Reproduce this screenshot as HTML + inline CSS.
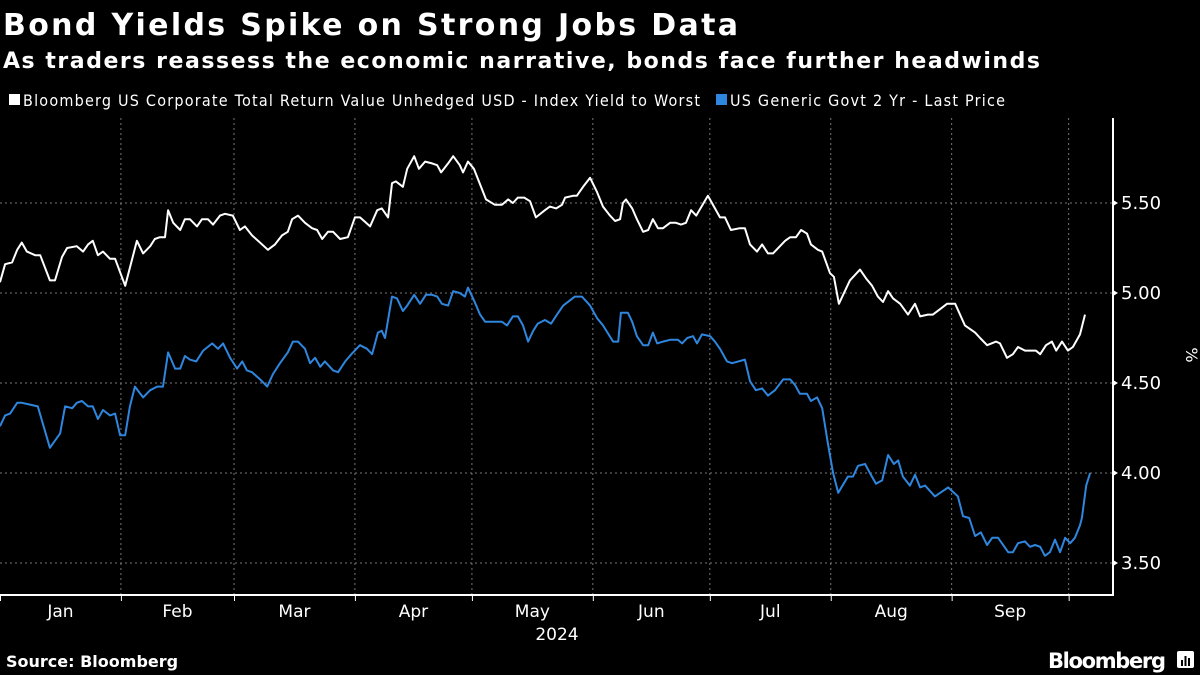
<!DOCTYPE html>
<html><head><meta charset="utf-8"><style>
html,body{margin:0;padding:0;background:#000;width:1200px;height:675px;overflow:hidden}
svg text{font-family:"DejaVu Sans","Liberation Sans",sans-serif;fill:#fff}
</style></head><body>
<svg id="c" width="1200" height="675" viewBox="0 0 1200 675">
<text x="3" y="35" font-size="30" font-weight="bold" textLength="735">Bond Yields Spike on Strong Jobs Data</text>
<text x="3" y="68" font-size="22" font-weight="bold" textLength="1037">As traders reassess the economic narrative, bonds face further headwinds</text>
<g>
<rect x="9" y="94" width="11" height="11" fill="#fff"/>
<text x="23" y="106" font-size="16" textLength="677" style="font-stretch:condensed">Bloomberg US Corporate Total Return Value Unhedged USD - Index Yield to Worst</text>
<rect x="716" y="94" width="11" height="11" fill="#2f86de"/>
<text x="730" y="106" font-size="16" textLength="275" style="font-stretch:condensed">US Generic Govt 2 Yr - Last Price</text>
</g>
<g id="grid"></g>
<g id="axes"></g>
<g id="series"></g>
<text x="557" y="640" font-size="17" text-anchor="middle">2024</text>
<text transform="translate(1186,355) rotate(90)" font-size="16" text-anchor="middle">%</text>
<text x="6" y="667" font-size="16" font-weight="bold">Source: Bloomberg</text>
<text x="1048" y="668" font-size="21" font-weight="bold" textLength="118">Bloomberg</text>
<g><rect x="1177" y="651" width="17" height="17" rx="2" fill="#fff"/><rect x="1181" y="660" width="2" height="6" fill="#000"/><rect x="1184.5" y="656" width="2" height="10" fill="#000"/><rect x="1188" y="658" width="2" height="8" fill="#000"/></g>
</svg>
<script>
const yTicks=[3.5,4.0,4.5,5.0,5.5];
const yTickLabels=["3.50","4.00","4.50","5.00","5.50"];
const monthLabels=["Jan","Feb","Mar","Apr","May","Jun","Jul","Aug","Sep"];
const monthStarts=[0,31,60,91,121,152,182,213,244,274];
const corpDays=[0,1.3,3.1,4.4,5.6,6.9,9.0,10.3,12.8,14.1,15.9,17.2,19.7,21.3,22.6,23.8,25.1,26.4,28.2,29.5,32.1,35.1,36.7,38.5,39.7,41.0,42.3,43.1,44.4,46.2,47.4,48.7,50.5,51.8,53.3,54.6,56.4,57.7,59.7,61.5,62.8,64.6,66.7,68.7,70.5,72.3,73.8,74.9,76.4,78.2,80.0,81.3,82.6,84.1,85.4,87.2,89.2,91.0,92.3,94.9,96.7,97.9,99.5,100.5,101.5,103.3,104.4,106.2,107.4,109.0,110.8,112.1,113.1,114.9,116.2,117.9,118.7,120.0,121.5,124.6,126.9,128.7,130.3,131.5,132.8,134.4,135.9,137.4,139.7,141.0,142.6,144.1,144.9,146.9,147.9,149.5,151.3,153.1,154.6,156.4,157.7,159.0,159.7,160.5,162.1,163.3,164.9,166.2,167.4,168.7,170.0,171.8,173.3,174.6,175.9,177.2,178.5,181.5,184.6,185.9,187.4,189.7,191.0,192.3,194.1,195.4,196.9,198.2,201.3,202.6,204.1,205.4,206.9,207.9,209.7,210.8,212.8,213.8,215.1,217.9,220.5,222.1,223.6,225.1,226.4,227.7,229.0,230.8,232.8,234.6,235.9,237.9,239.2,241.0,242.8,244.9,247.4,250.0,251.3,253.1,255.4,256.4,258.2,259.7,261.0,262.8,264.1,265.6,266.7,268.2,269.7,270.8,272.3,273.8,275.1,276.9,278.2];
const corpYield=[5.06,5.16,5.17,5.24,5.28,5.23,5.21,5.21,5.07,5.07,5.20,5.25,5.26,5.23,5.27,5.29,5.21,5.23,5.19,5.19,5.04,5.29,5.22,5.26,5.30,5.31,5.31,5.46,5.39,5.35,5.41,5.41,5.37,5.41,5.41,5.38,5.43,5.44,5.43,5.35,5.37,5.32,5.28,5.24,5.27,5.32,5.34,5.41,5.43,5.39,5.36,5.35,5.30,5.34,5.34,5.30,5.31,5.42,5.42,5.37,5.46,5.47,5.42,5.61,5.62,5.59,5.69,5.76,5.69,5.73,5.72,5.71,5.67,5.72,5.76,5.71,5.67,5.73,5.69,5.52,5.49,5.49,5.52,5.50,5.53,5.53,5.51,5.42,5.46,5.48,5.47,5.49,5.53,5.54,5.54,5.59,5.64,5.56,5.48,5.43,5.40,5.41,5.50,5.52,5.47,5.41,5.34,5.35,5.41,5.36,5.36,5.39,5.39,5.38,5.39,5.46,5.43,5.54,5.42,5.42,5.35,5.36,5.36,5.27,5.23,5.27,5.22,5.22,5.29,5.31,5.31,5.35,5.33,5.27,5.24,5.23,5.11,5.09,4.94,5.07,5.13,5.08,5.04,4.98,4.95,5.01,4.97,4.94,4.88,4.94,4.87,4.88,4.88,4.91,4.94,4.94,4.82,4.78,4.75,4.71,4.73,4.72,4.64,4.66,4.70,4.68,4.68,4.68,4.66,4.71,4.73,4.68,4.73,4.68,4.70,4.77,4.88];
const govDays=[0,1.3,2.6,4.4,5.6,7.7,9.7,12.8,15.4,16.7,18.5,19.7,21.0,22.6,23.8,25.1,26.4,28.2,29.5,30.8,32.1,33.3,34.6,36.7,38.5,40.3,41.8,43.1,44.9,46.2,47.4,48.7,50.3,52.1,54.4,55.9,57.2,59.0,60.8,62.1,63.3,64.6,66.7,68.5,70.0,71.8,73.8,75.1,76.4,78.2,79.5,80.8,82.1,83.3,85.4,86.7,88.5,90.5,92.3,94.1,95.4,96.9,97.9,98.7,100.5,101.8,103.3,104.4,106.2,107.7,109.2,110.8,112.1,113.3,114.9,116.2,117.9,119.2,120.0,121.5,123.1,124.4,126.2,128.7,130.0,131.5,132.8,134.1,135.4,136.7,137.9,139.7,141.3,142.8,144.4,147.4,149.2,151.3,153.1,154.6,157.2,158.5,159.2,161.0,162.1,163.3,164.9,166.2,167.4,168.5,170.0,171.8,173.8,174.9,176.2,177.7,178.7,180.0,182.1,183.3,184.6,186.4,187.7,191.0,192.3,193.8,195.4,196.9,198.7,200.8,202.6,203.8,205.1,206.9,207.9,209.5,210.8,212.3,213.6,214.9,217.4,218.7,220.0,221.8,223.3,224.6,226.2,227.7,229.2,230.3,231.5,233.3,234.6,235.9,237.2,239.7,243.1,245.6,246.9,248.5,250.0,251.5,253.1,254.4,255.9,258.5,259.7,261.0,262.8,264.1,265.4,266.7,267.9,269.2,270.5,271.8,273.1,274.4,275.6,276.9,277.4,278.5,279.5];
const govYield=[4.26,4.32,4.33,4.39,4.39,4.38,4.37,4.14,4.22,4.37,4.36,4.39,4.40,4.37,4.37,4.30,4.35,4.32,4.33,4.21,4.21,4.37,4.48,4.42,4.46,4.48,4.48,4.67,4.58,4.58,4.65,4.63,4.62,4.68,4.72,4.69,4.72,4.64,4.58,4.62,4.57,4.56,4.52,4.48,4.55,4.61,4.67,4.73,4.73,4.69,4.61,4.64,4.59,4.62,4.57,4.56,4.62,4.67,4.71,4.69,4.66,4.78,4.79,4.75,4.98,4.97,4.90,4.93,4.99,4.94,4.99,4.99,4.98,4.94,4.93,5.01,5.00,4.98,5.03,4.96,4.88,4.84,4.84,4.84,4.82,4.87,4.87,4.82,4.73,4.79,4.83,4.85,4.83,4.88,4.93,4.98,4.98,4.93,4.86,4.82,4.73,4.73,4.89,4.89,4.84,4.76,4.71,4.71,4.78,4.72,4.73,4.74,4.74,4.72,4.75,4.76,4.72,4.77,4.76,4.73,4.69,4.62,4.61,4.63,4.51,4.46,4.47,4.43,4.46,4.52,4.52,4.49,4.44,4.44,4.40,4.42,4.36,4.16,4.00,3.89,3.98,3.98,4.04,4.05,3.99,3.94,3.96,4.10,4.05,4.07,3.98,3.93,3.99,3.92,3.93,3.87,3.92,3.87,3.76,3.75,3.65,3.67,3.60,3.64,3.64,3.56,3.56,3.61,3.62,3.59,3.60,3.59,3.54,3.56,3.63,3.56,3.64,3.61,3.64,3.71,3.75,3.93,4.00];

const NS="http://www.w3.org/2000/svg";
const L=0,R=1113,T=118,B=595;
const xS=d=>L+d*(1110/284.6);
const yS=v=>203+(5.5-v)*180;
function mk(tag,attrs,parent){const e=document.createElementNS(NS,tag);for(const k in attrs)e.setAttribute(k,attrs[k]);parent.appendChild(e);return e;}
const grid=document.getElementById('grid'),axes=document.getElementById('axes'),ser=document.getElementById('series');
yTicks.forEach((v,i)=>{
  const g=mk('line',{x1:L,x2:R,y1:yS(v),y2:yS(v),stroke:'#777','stroke-width':1,'stroke-dasharray':'2,3'},grid);
  
  
  const tk=mk('path',{d:`M${R} ${yS(v)-3}L${R+5} ${yS(v)}L${R} ${yS(v)+3}Z`,fill:'#fff'},axes);
  
  
  const t=mk('text',{x:R+8,y:yS(v)+6,'font-size':18},axes);
  t.textContent=yTickLabels[i];
  
  
});
monthStarts.forEach((d,i)=>{
  if(i>0){
    const g=mk('line',{x1:xS(d),x2:xS(d),y1:T,y2:B,stroke:'#777','stroke-width':1,'stroke-dasharray':'2,3'},grid);
    
    
  }
  const tk=mk('line',{x1:xS(d)+0.5,x2:xS(d)+0.5,y1:B,y2:B+6,stroke:'#fff','stroke-width':1},axes);
  
  
  if(i<monthLabels.length){
    const t=mk('text',{x:(xS(d)+xS(monthStarts[i+1]))/2,y:B+22,'font-size':17,'text-anchor':'middle'},axes);
    t.textContent=monthLabels[i];
    
    
  }
});
const xa=mk('line',{x1:L,x2:R,y1:B,y2:B,stroke:'#fff','stroke-width':2},axes);


const ya=mk('line',{x1:R,x2:R,y1:T,y2:B+1,stroke:'#fff','stroke-width':2},axes);


function line(days,vals,color,name){
  const d=days.map((x,i)=>(i?'L':'M')+xS(x).toFixed(1)+' '+yS(vals[i]).toFixed(1)).join('');
  const p=mk('path',{d:d,fill:'none',stroke:color,'stroke-width':2,'stroke-linejoin':'round'},ser);
  
  
}
line(govDays,govYield,'#2f86de','govt-2yr-line');
line(corpDays,corpYield,'#ffffff','corporate-yield-line');
</script>
</body></html>
